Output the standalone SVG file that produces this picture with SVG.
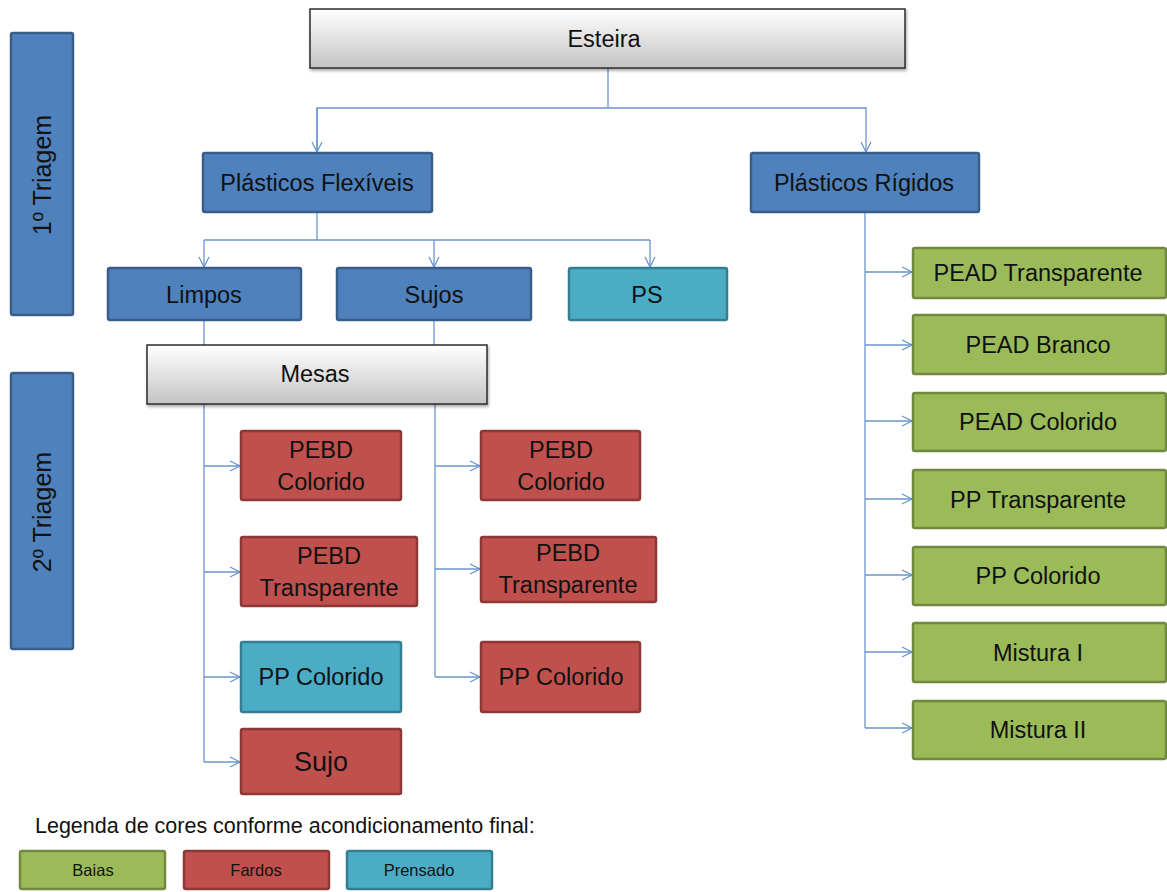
<svg xmlns="http://www.w3.org/2000/svg" width="1167" height="892" viewBox="0 0 1167 892">
  <defs>
    <linearGradient id="grayGrad" x1="0" y1="0" x2="0" y2="1">
      <stop offset="0" stop-color="#ffffff"/>
      <stop offset="1" stop-color="#c4c4c4"/>
    </linearGradient>
    <filter id="shadow" x="-5%" y="-10%" width="110%" height="130%">
      <feDropShadow dx="1" dy="2" stdDeviation="1.5" flood-color="#000" flood-opacity="0.35"/>
    </filter>
    <marker id="arrow" viewBox="0 0 12 12" refX="11" refY="6" markerWidth="12" markerHeight="12" markerUnits="userSpaceOnUse" orient="auto">
      <path d="M1,1 L11,6 L1,11" fill="none" stroke="#6a95cc" stroke-width="1.3"/>
    </marker>
    <style>
      text { font-family: "Liberation Sans", Arial, sans-serif; fill: #111; text-anchor: middle; }
      .lbl { font-size: 23.5px; }
      .side { font-size: 25px; }
      .gray { fill: url(#grayGrad); stroke: #2b2b2b; stroke-width: 1.5; filter: url(#shadow); }
      .blue { fill: #4f81bd; stroke: #385d8a; stroke-width: 2.5; }
      .red { fill: #c0504d; stroke: #8c3836; stroke-width: 2.5; }
      .green { fill: #9bbb59; stroke: #71893f; stroke-width: 2.5; }
      .teal { fill: #4bacc6; stroke: #357d91; stroke-width: 2.5; }
      .conn { fill: none; stroke: #6a95cc; stroke-width: 1.3; }
      .leg { font-size: 16.5px; }
    </style>
  </defs>

  <!-- stage labels -->
  <g id="triagem1">
    <rect class="blue" x="11" y="33" width="62" height="282" rx="2"/>
    <text class="side" transform="translate(51,175) rotate(-90)">1º Triagem</text>
  </g>
  <g id="triagem2">
    <rect class="blue" x="11" y="373" width="62" height="276" rx="2"/>
    <text class="side" transform="translate(51,512) rotate(-90)">2º Triagem</text>
  </g>

  <!-- connectors -->
  <g id="connectors">
    <path class="conn" d="M608,68 V108"/>
    <path class="conn" d="M317,152 V108 H866 V152" marker-end="url(#arrow)"/>
    <path class="conn" d="M317,108 V152" marker-end="url(#arrow)"/>
    <path class="conn" d="M317,212 V240"/>
    <path class="conn" d="M204,240 H650"/>
    <path class="conn" d="M204,240 V267" marker-end="url(#arrow)"/>
    <path class="conn" d="M434,240 V267" marker-end="url(#arrow)"/>
    <path class="conn" d="M650,240 V267" marker-end="url(#arrow)"/>
    <path class="conn" d="M204,320 V345"/>
    <path class="conn" d="M434,320 V345"/>
    <!-- Mesas, left column -->
    <path class="conn" d="M204,404 V762"/>
    <path class="conn" d="M204,466 H240" marker-end="url(#arrow)"/>
    <path class="conn" d="M204,572 H240" marker-end="url(#arrow)"/>
    <path class="conn" d="M204,677 H240" marker-end="url(#arrow)"/>
    <path class="conn" d="M204,762 H240" marker-end="url(#arrow)"/>
    <!-- Mesas, right column -->
    <path class="conn" d="M435,404 V677"/>
    <path class="conn" d="M435,466 H480" marker-end="url(#arrow)"/>
    <path class="conn" d="M435,569 H480" marker-end="url(#arrow)"/>
    <path class="conn" d="M435,677 H480" marker-end="url(#arrow)"/>
    <!-- rigid plastics -->
    <path class="conn" d="M865,212 V728"/>
    <path class="conn" d="M865,272 H912" marker-end="url(#arrow)"/>
    <path class="conn" d="M865,345 H912" marker-end="url(#arrow)"/>
    <path class="conn" d="M865,421 H912" marker-end="url(#arrow)"/>
    <path class="conn" d="M865,499 H912" marker-end="url(#arrow)"/>
    <path class="conn" d="M865,575 H912" marker-end="url(#arrow)"/>
    <path class="conn" d="M865,652 H912" marker-end="url(#arrow)"/>
    <path class="conn" d="M865,728 H912" marker-end="url(#arrow)"/>
  </g>

  <!-- first sorting -->
  <g id="esteira">
    <rect class="gray" x="310" y="9" width="595" height="59"/>
    <text class="lbl" x="604" y="47">Esteira</text>
  </g>
  <g id="flexiveis">
    <rect class="blue" x="203" y="153" width="229" height="59" rx="2"/>
    <text class="lbl" x="317" y="191">Plásticos Flexíveis</text>
  </g>
  <g id="rigidos">
    <rect class="blue" x="751" y="153" width="228" height="59" rx="2"/>
    <text class="lbl" x="864" y="191">Plásticos Rígidos</text>
  </g>
  <g id="limpos">
    <rect class="blue" x="108" y="268" width="193" height="52" rx="2"/>
    <text class="lbl" x="204" y="303">Limpos</text>
  </g>
  <g id="sujos">
    <rect class="blue" x="337" y="268" width="194" height="52" rx="2"/>
    <text class="lbl" x="434" y="303">Sujos</text>
  </g>
  <g id="ps">
    <rect class="teal" x="569" y="268" width="158" height="52" rx="2"/>
    <text class="lbl" x="647" y="303">PS</text>
  </g>

  <!-- second sorting -->
  <g id="mesas">
    <rect class="gray" x="147" y="345" width="340" height="59"/>
    <text class="lbl" x="315" y="382">Mesas</text>
  </g>
  <g id="limpos-pebd-colorido">
    <rect class="red" x="241" y="431" width="160" height="69" rx="2"/>
    <text class="lbl" x="321" y="458">PEBD</text>
    <text class="lbl" x="321" y="490">Colorido</text>
  </g>
  <g id="limpos-pebd-transparente">
    <rect class="red" x="241" y="537" width="176" height="69" rx="2"/>
    <text class="lbl" x="329" y="564">PEBD</text>
    <text class="lbl" x="329" y="596">Transparente</text>
  </g>
  <g id="limpos-pp-colorido">
    <rect class="teal" x="241" y="642" width="160" height="70" rx="2"/>
    <text class="lbl" x="321" y="685">PP Colorido</text>
  </g>
  <g id="limpos-sujo">
    <rect class="red" x="241" y="729" width="160" height="65" rx="2"/>
    <text class="lbl" x="321" y="771" style="font-size:27px">Sujo</text>
  </g>
  <g id="sujos-pebd-colorido">
    <rect class="red" x="481" y="431" width="159" height="69" rx="2"/>
    <text class="lbl" x="561" y="458">PEBD</text>
    <text class="lbl" x="561" y="490">Colorido</text>
  </g>
  <g id="sujos-pebd-transparente">
    <rect class="red" x="481" y="537" width="175" height="65" rx="2"/>
    <text class="lbl" x="568" y="561">PEBD</text>
    <text class="lbl" x="568" y="593">Transparente</text>
  </g>
  <g id="sujos-pp-colorido">
    <rect class="red" x="481" y="642" width="159" height="70" rx="2"/>
    <text class="lbl" x="561" y="685">PP Colorido</text>
  </g>

  <!-- rigid plastic outputs -->
  <g id="pead-transparente">
    <rect class="green" x="913" y="248" width="253" height="50" rx="2"/>
    <text class="lbl" x="1038" y="281">PEAD Transparente</text>
  </g>
  <g id="pead-branco">
    <rect class="green" x="913" y="315" width="253" height="59" rx="2"/>
    <text class="lbl" x="1038" y="353">PEAD Branco</text>
  </g>
  <g id="pead-colorido">
    <rect class="green" x="913" y="393" width="253" height="58" rx="2"/>
    <text class="lbl" x="1038" y="430">PEAD Colorido</text>
  </g>
  <g id="pp-transparente">
    <rect class="green" x="913" y="470" width="253" height="58" rx="2"/>
    <text class="lbl" x="1038" y="508">PP Transparente</text>
  </g>
  <g id="pp-colorido">
    <rect class="green" x="913" y="547" width="253" height="58" rx="2"/>
    <text class="lbl" x="1038" y="584">PP Colorido</text>
  </g>
  <g id="mistura-1">
    <rect class="green" x="913" y="623" width="253" height="59" rx="2"/>
    <text class="lbl" x="1038" y="661">Mistura I</text>
  </g>
  <g id="mistura-2">
    <rect class="green" x="913" y="701" width="253" height="58" rx="2"/>
    <text class="lbl" x="1038" y="738">Mistura II</text>
  </g>

  <!-- colour legend -->
  <g id="legenda">
    <text x="35" y="833" style="font-size:21.5px;text-anchor:start">Legenda de cores conforme acondicionamento final:</text>
    <rect class="green" x="20" y="851" width="145" height="38" rx="2"/>
    <text class="leg" x="93" y="876">Baias</text>
    <rect class="red" x="184" y="851" width="145" height="38" rx="2"/>
    <text class="leg" x="256" y="876">Fardos</text>
    <rect class="teal" x="347" y="851" width="145" height="38" rx="2"/>
    <text class="leg" x="419" y="876">Prensado</text>
  </g>
</svg>
